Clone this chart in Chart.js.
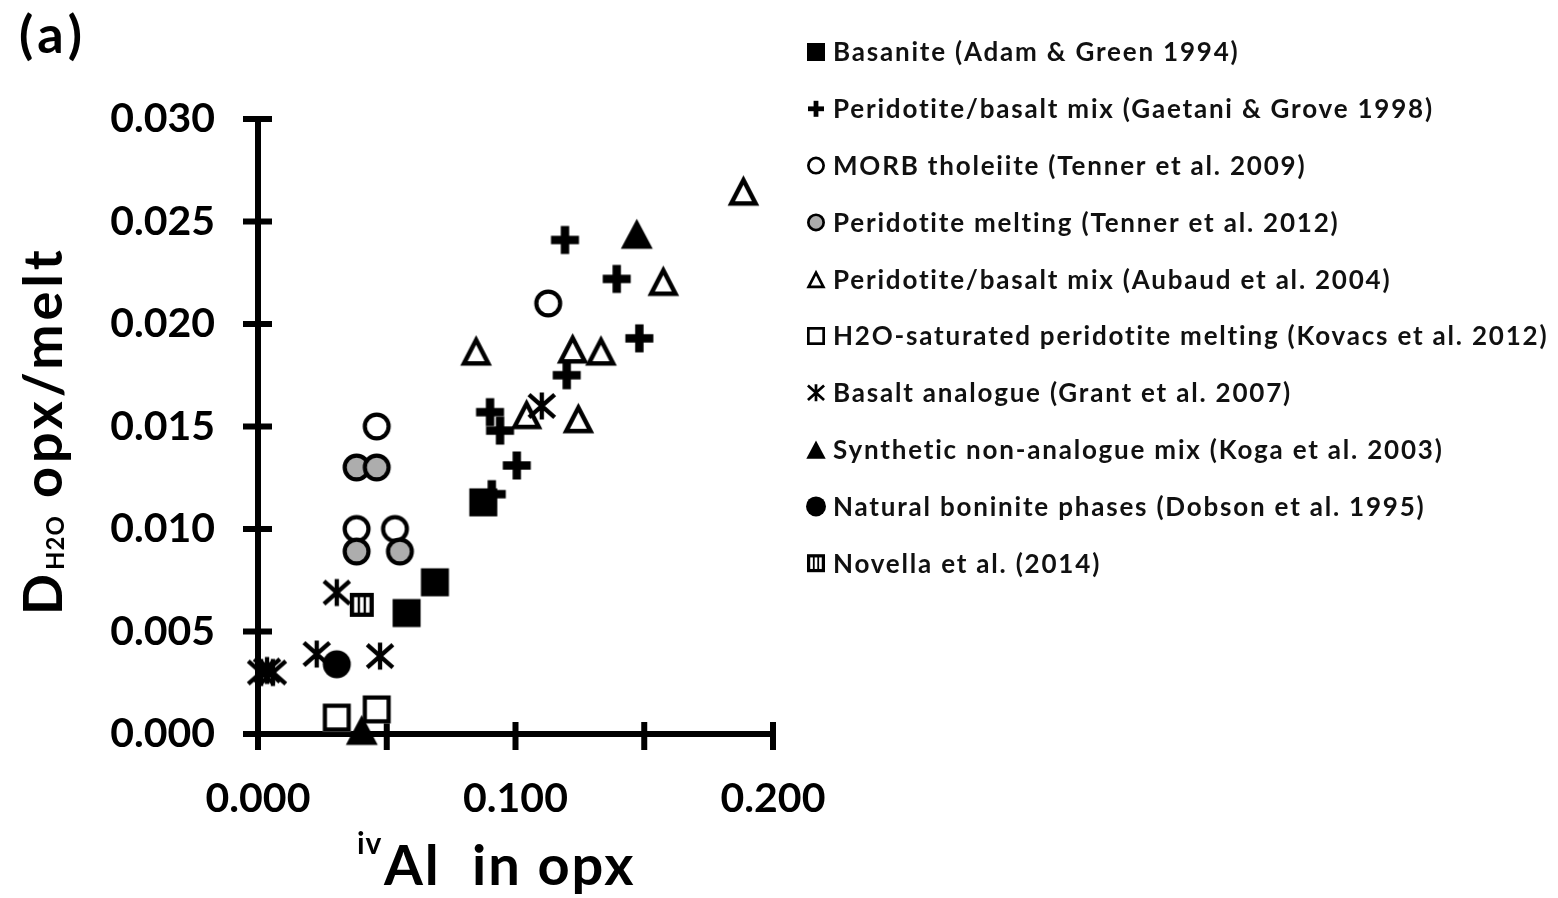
<!DOCTYPE html>
<html>
<head>
<meta charset="utf-8">
<title>D H2O opx/melt vs ivAl in opx</title>
<script src="https://cdn.jsdelivr.net/npm/chart.js@4.4.1/dist/chart.umd.min.js"></script>
<style>
  html, body { margin: 0; padding: 0; background: #fff; }
  #wrap { width: 1558px; height: 898px; position: relative; }
</style>
</head>
<body>
<div id="wrap"><canvas id="chart" width="1558" height="898"></canvas></div>
<script>
// ---- series labels ----
const seriesNames = [
  'Basanite (Adam & Green 1994)',
  'Peridotite/basalt mix (Gaetani & Grove 1998)',
  'MORB tholeiite (Tenner et al. 2009)',
  'Peridotite melting (Tenner et al. 2012)',
  'Peridotite/basalt mix (Aubaud et al. 2004)',
  'H2O-saturated peridotite melting (Kovacs et al. 2012)',
  'Basalt analogue (Grant et al. 2007)',
  'Synthetic non-analogue mix (Koga et al. 2003)',
  'Natural boninite phases (Dobson et al. 1995)',
  'Novella et al. (2014)'
];

// ---- ivAl in opx (x) and D H2O opx/melt (y) per study ----
const basaniteAl = [0.0875, 0.0577, 0.0687];
const basaniteD  = [0.0113, 0.0059, 0.0074];

const gaetaniAl = [0.1192, 0.1393, 0.1481, 0.1199, 0.0901, 0.0940, 0.1005, 0.0908];
const gaetaniD  = [0.0241, 0.0222, 0.0193, 0.0175, 0.0157, 0.0148, 0.0131, 0.0117];

const morbAl = [0.0461, 0.0383, 0.0532, 0.1127];
const morbD  = [0.0150, 0.0100, 0.0100, 0.0210];

const tenner12Al = [0.0383, 0.0461, 0.0383, 0.0551];
const tenner12D  = [0.0130, 0.0130, 0.0089, 0.0089];

const aubaudAl = [0.1885, 0.1574, 0.0847, 0.1222, 0.1332, 0.1043, 0.1244];
const aubaudD  = [0.0265, 0.0221, 0.0187, 0.0188, 0.0187, 0.0156, 0.0154];

const kovacsAl = [0.0306, 0.0461];
const kovacsD  = [0.0008, 0.0012];

const grantAl = [0.1102, 0.0306, 0.0228, 0.0474, 0.0012, 0.0035, 0.0058];
const grantD  = [0.0160, 0.0069, 0.0039, 0.0038, 0.0030, 0.0031, 0.0030];

const kogaAl = [0.1471, 0.0403];
const kogaD  = [0.0244, 0.0002];

const dobsonAl = [0.0306];
const dobsonD  = [0.0034];

const novellaAl = [0.0403];
const novellaD  = [0.0063];

// ---- axis ticks ----
const xTickValues = [0, 0.05, 0.1, 0.15, 0.2];
const xLabelValues = [0, 0.1, 0.2];
const yTickValues = [0, 0.005, 0.01, 0.015, 0.02, 0.025, 0.03];

const FONT = 'Lato, "Open Sans", "DejaVu Sans", sans-serif';
const GRAY = '#adadad';

// ---- marker shapes ----
function drawMarker(ctx, kind, cx, cy, s) {
  const h = s / 2;
  ctx.save();
  ctx.lineJoin = 'miter';
  ctx.fillStyle = '#000';
  ctx.strokeStyle = '#000';
  const lw = Math.max(2, s * 0.15);
  ctx.lineWidth = lw;
  switch (kind) {
    case 'fsq':
      ctx.fillRect(cx - h, cy - h, s, s);
      break;
    case 'osq':
      ctx.fillStyle = '#fff';
      ctx.fillRect(cx - h, cy - h, s, s);
      ctx.strokeRect(cx - h + lw / 2, cy - h + lw / 2, s - lw, s - lw);
      break;
    case 'plus': {
      const t = s * 0.3;
      ctx.fillRect(cx - h, cy - t / 2, s, t);
      ctx.fillRect(cx - t / 2, cy - h, t, s);
      break;
    }
    case 'ocirc':
    case 'gcirc':
      ctx.fillStyle = kind === 'gcirc' ? GRAY : '#fff';
      ctx.beginPath();
      ctx.arc(cx, cy, h - lw / 2, 0, Math.PI * 2);
      ctx.fill();
      ctx.stroke();
      break;
    case 'fcirc':
      ctx.beginPath();
      ctx.arc(cx, cy, h, 0, Math.PI * 2);
      ctx.fill();
      break;
    case 'otri': {
      const w = s * 1.14, th = s * 1.07;
      ctx.lineWidth = s * 0.16;
      const l = ctx.lineWidth;
      ctx.fillStyle = '#fff';
      ctx.beginPath();
      ctx.moveTo(cx, cy - th / 2 + l * 0.95);
      ctx.lineTo(cx + w / 2 - l * 0.85, cy + th / 2 - l / 2);
      ctx.lineTo(cx - w / 2 + l * 0.85, cy + th / 2 - l / 2);
      ctx.closePath();
      ctx.fill();
      ctx.stroke();
      break;
    }
    case 'ftri': {
      const w = s * 1.14, th = s * 1.08;
      ctx.beginPath();
      ctx.moveTo(cx, cy - th / 2);
      ctx.lineTo(cx + w / 2, cy + th / 2);
      ctx.lineTo(cx - w / 2, cy + th / 2);
      ctx.closePath();
      ctx.fill();
      break;
    }
    case 'ast': {
      ctx.lineWidth = s * 0.16;
      ctx.lineCap = 'butt';
      ctx.beginPath();
      ctx.moveTo(cx - h * 0.95, cy - h * 0.85);
      ctx.lineTo(cx + h * 0.95, cy + h * 0.85);
      ctx.moveTo(cx + h * 0.95, cy - h * 0.85);
      ctx.lineTo(cx - h * 0.95, cy + h * 0.85);
      ctx.moveTo(cx, cy - h);
      ctx.lineTo(cx, cy + h);
      ctx.stroke();
      break;
    }
    case 'nov': {
      ctx.fillRect(cx - h, cy - h, s, s);
      const b = s * 0.18, sep = s * 0.1;
      const inner = s - 2 * b;
      const bar = (inner - 2 * sep) / 3;
      ctx.fillStyle = '#fff';
      for (let i = 0; i < 3; i++) {
        ctx.fillRect(cx - h + b + i * (bar + sep), cy - h + b, bar, s - 2 * b);
      }
      break;
    }
  }
  ctx.restore();
}

function markerCanvas(kind, s) {
  const size = Math.ceil(s * 1.25) + 4;
  const c = document.createElement('canvas');
  c.width = size; c.height = size;
  drawMarker(c.getContext('2d'), kind, size / 2, size / 2, s);
  return c;
}

const seriesMarkers = ['fsq', 'plus', 'ocirc', 'gcirc', 'otri', 'osq', 'ast', 'ftri', 'fcirc', 'nov'];
const plotSizes = { fsq: 28, plus: 28, ocirc: 28, gcirc: 28, otri: 28, osq: 28, ast: 27, ftri: 28, fcirc: 28, nov: 24 };
const legendSizes = { fsq: 18, plus: 16, ocirc: 18, gcirc: 18, otri: 17, osq: 18, ast: 17, ftri: 17, fcirc: 20, nov: 18 };
const drawOrder = [0, 5, 7, 6, 8, 9, 4, 3, 2, 1];

const xs = [basaniteAl, gaetaniAl, morbAl, tenner12Al, aubaudAl, kovacsAl, grantAl, kogaAl, dobsonAl, novellaAl];
const ys = [basaniteD, gaetaniD, morbD, tenner12D, aubaudD, kovacsD, grantD, kogaD, dobsonD, novellaD];

const datasets = seriesNames.map((name, i) => ({
  label: name,
  data: xs[i].map((x, k) => ({ x: x, y: ys[i][k] })),
  pointStyle: markerCanvas(seriesMarkers[i], plotSizes[seriesMarkers[i]]),
  pointRadius: 14,
  pointHoverRadius: 14,
  showLine: false,
  clip: false,
  order: drawOrder[i]
}));

// ---- axes drawn as crossing tick marks ----
const axisLines = {
  id: 'axisLines',
  beforeDatasetsDraw(chart) {
    const { ctx, scales: { x, y } } = chart;
    const x0 = x.getPixelForValue(0);
    const y0 = y.getPixelForValue(0);
    const yTop = y.getPixelForValue(yTickValues[yTickValues.length - 1]);
    const xEnd = x.getPixelForValue(xTickValues[xTickValues.length - 1]);
    ctx.save();
    ctx.strokeStyle = '#000';
    ctx.lineWidth = 6;
    ctx.lineCap = 'butt';
    ctx.beginPath();
    ctx.moveTo(x0, yTop - 3);
    ctx.lineTo(x0, y0);
    ctx.moveTo(x0 - 15, y0);
    ctx.lineTo(xEnd + 3, y0);
    yTickValues.forEach(v => {
      const p = y.getPixelForValue(v);
      ctx.moveTo(x0 - 15, p);
      ctx.lineTo(x0 + 14, p);
    });
    xTickValues.forEach(v => {
      const p = x.getPixelForValue(v);
      ctx.moveTo(p, y0 - 12);
      ctx.lineTo(p, y0 + 16);
    });
    ctx.stroke();
    ctx.restore();
  }
};

// ---- titles, panel letter and legend ----
function spaced(ctx, px) {
  if ('letterSpacing' in ctx) ctx.letterSpacing = px + 'px';
}

const annotations = {
  id: 'annotations',
  afterDraw(chart) {
    const ctx = chart.ctx;
    ctx.save();
    ctx.fillStyle = '#000';

    // panel letter
    ctx.font = `bold 52px ${FONT}`;
    spaced(ctx, 5);
    ctx.textBaseline = 'alphabetic';
    ctx.textAlign = 'left';
    ctx.fillText('(a)', 19, 53);

    // y-axis title with subscript
    ctx.save();
    ctx.translate(62, 615);
    ctx.rotate(-Math.PI / 2);
    ctx.font = `bold 54px ${FONT}`;
    spaced(ctx, 4);
    ctx.fillText('D', 0, 0);
    let off = ctx.measureText('D').width;
    ctx.font = `bold 24px ${FONT}`;
    spaced(ctx, 1);
    ctx.fillText('H2O', off, 2);
    off += ctx.measureText('H2O').width;
    ctx.font = `bold 54px ${FONT}`;
    spaced(ctx, 4);
    ctx.fillText(' opx/melt', off, 0);
    ctx.restore();

    // x-axis title with superscript
    ctx.font = `bold 30px ${FONT}`;
    spaced(ctx, 1);
    ctx.fillText('iv', 357, 854);
    ctx.font = `bold 56px ${FONT}`;
    spaced(ctx, 2);
    ctx.fillText('Al  in opx', 384, 885);

    // legend
    ctx.font = `bold 26px ${FONT}`;
    spaced(ctx, 1.8);
    ctx.textBaseline = 'middle';
    chart.data.datasets.forEach((ds, i) => {
      const cy = 52 + i * 56.8;
      const kind = seriesMarkers[i];
      drawMarker(ctx, kind, 816, cy, legendSizes[kind]);
      ctx.fillStyle = '#111';
      ctx.fillText(ds.label, 833, cy + 1);
    });
    ctx.restore();
  }
};

new Chart(document.getElementById('chart'), {
  type: 'scatter',
  data: { datasets: datasets },
  options: {
    responsive: false,
    animation: false,
    devicePixelRatio: 1,
    events: [],
    layout: { padding: { left: 0, top: 119, right: 785, bottom: 0 } },
    plugins: {
      legend: { display: false },
      tooltip: { enabled: false },
      title: { display: false }
    },
    scales: {
      x: {
        type: 'linear',
        min: 0,
        max: 0.2,
        afterBuildTicks: s => { s.ticks = xTickValues.map(v => ({ value: v })); },
        afterFit: s => { s.height = 898 - 734; },
        grid: { display: false, drawTicks: false },
        border: { display: false },
        ticks: {
          autoSkip: false,
          maxRotation: 0,
          padding: 40,
          color: '#000',
          font: { family: FONT, size: 41, weight: 'bold' },
          callback: v => xLabelValues.some(l => Math.abs(l - v) < 1e-9) ? v.toFixed(3) : ''
        }
      },
      y: {
        type: 'linear',
        min: 0,
        max: 0.03,
        afterBuildTicks: s => { s.ticks = yTickValues.map(v => ({ value: v })); },
        afterFit: s => { s.width = 258; },
        grid: { display: false, drawTicks: false },
        border: { display: false },
        ticks: {
          autoSkip: false,
          padding: 43,
          color: '#000',
          font: { family: FONT, size: 41, weight: 'bold' },
          callback: v => v.toFixed(3)
        }
      }
    }
  },
  plugins: [axisLines, annotations]
});
</script>
</body>
</html>
